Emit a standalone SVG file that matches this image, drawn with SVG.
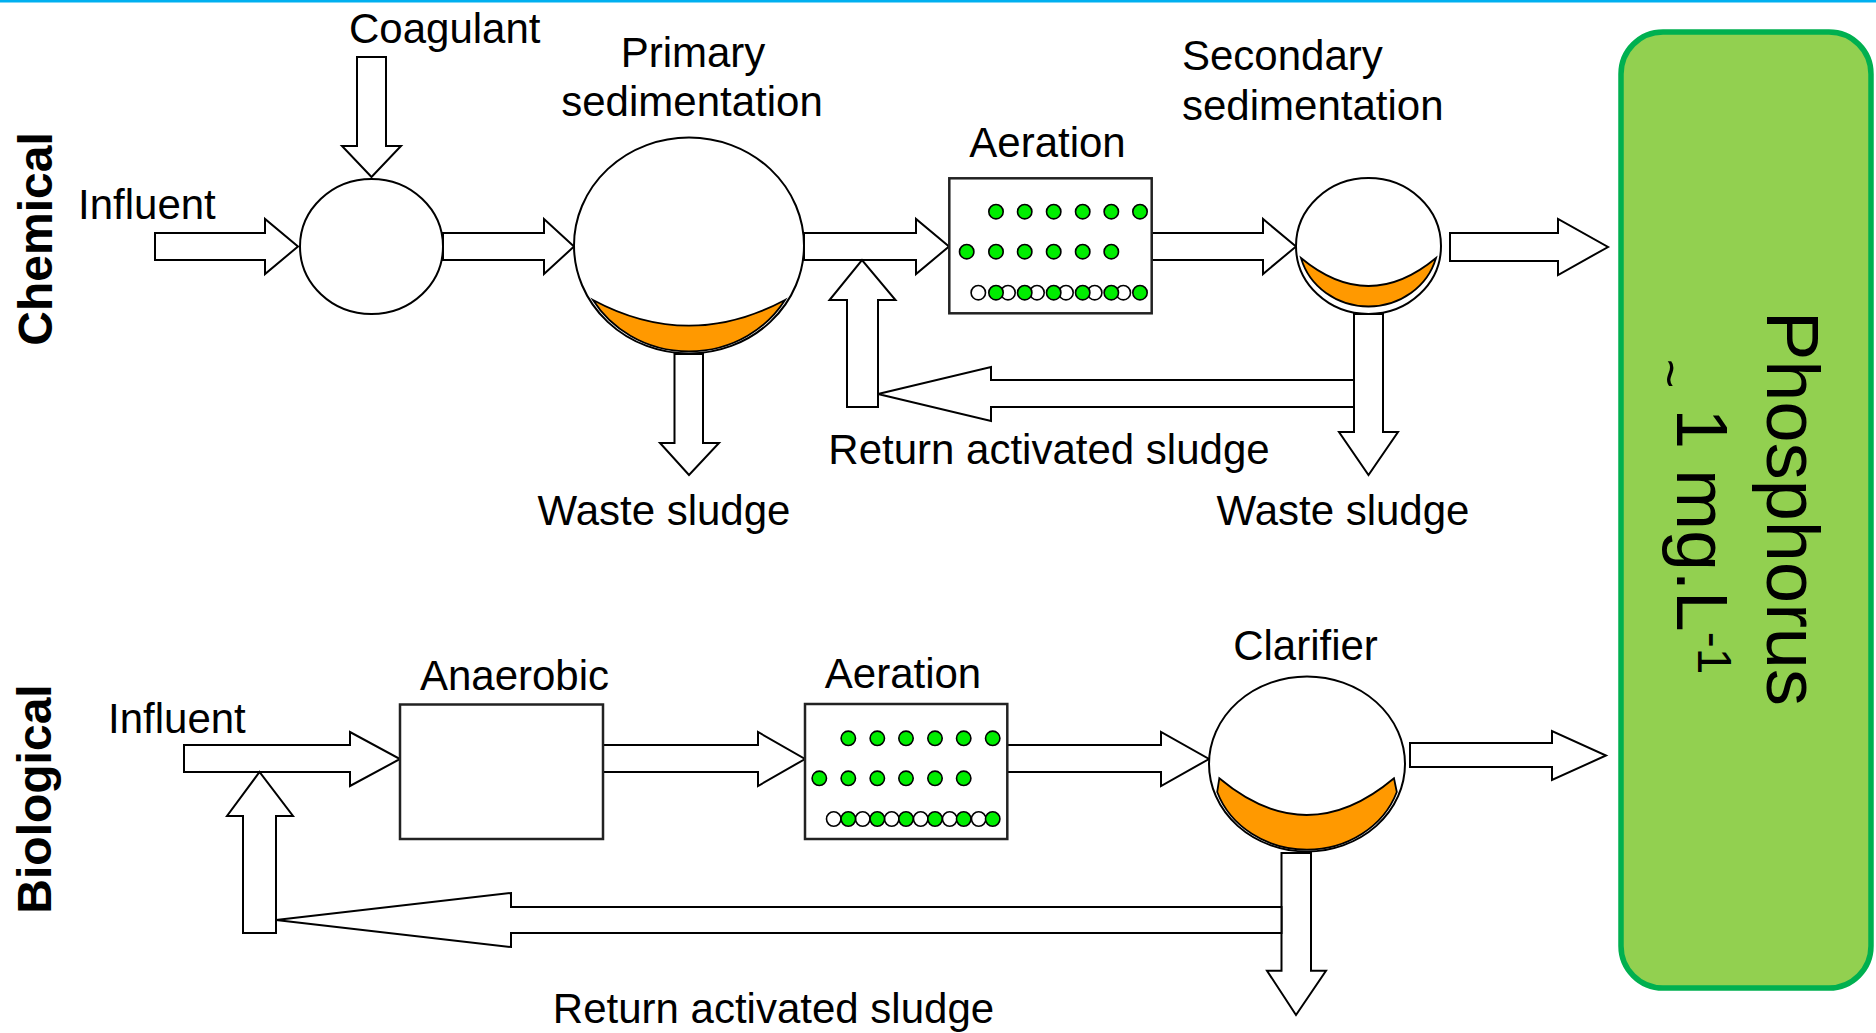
<svg xmlns="http://www.w3.org/2000/svg" width="1876" height="1033" viewBox="0 0 1876 1033">
<style>
  .lbl{font-family:"Liberation Sans",Arial,sans-serif;font-size:42px;fill:#000}
  .side{font-family:"Liberation Sans",Arial,sans-serif;font-size:48px;font-weight:bold;fill:#000}
  .big{font-family:"Liberation Sans",Arial,sans-serif;fill:#000}
  .arr{fill:#fff;stroke:#000;stroke-width:2;stroke-linejoin:miter}
  .tank{fill:#fff;stroke:#000;stroke-width:2}
  .box{fill:#fff;stroke:#222;stroke-width:2.5}
  .sludge{fill:#ff9900;stroke:#000;stroke-width:1.8}
  .g{fill:#00ee00;stroke:#000;stroke-width:1.6}
  .w{fill:#fff;stroke:#000;stroke-width:1.6}
</style>
<rect x="0" y="0" width="1876" height="2.5" fill="#00b0f0"/>

<g id="connectors">
  <polygon class="arr" points="155,233 265,233 265,219 298,246.5 265,274 265,260 155,260"/>
  <polygon class="arr" points="357,57 386,57 386,146 401,146 371.5,177 342,146 357,146"/>
  <polygon class="arr" points="443,233 544,233 544,219 574,246.5 544,274 544,260 443,260"/>
  <polygon class="arr" points="804,233 916,233 916,219 949,246.5 916,274 916,260 804,260"/>
  <polygon class="arr" points="674.5,354 703,354 703,443 719,443 689,475 660,443 674.5,443"/>
  <polygon class="arr" points="847,407 847,300 829.5,300 862,260 895.5,300 878,300 878,407"/>
  <polygon class="arr" points="1152,233 1263,233 1263,219 1296,246.5 1263,274 1263,260 1152,260"/>
  <polygon class="arr" points="1354,314 1383,314 1383,432 1398,432 1368.5,475 1339,432 1354,432"/>
  <polygon class="arr" points="1354,380 991,380 991,367 878,394 991,421 991,407 1354,407"/>
  <polygon class="arr" points="1450,233 1558,233 1558,219 1608,247 1558,275 1558,261 1450,261"/>

  <polygon class="arr" points="184,745 350,745 350,732 400,759 350,786 350,772 184,772"/>
  <polygon class="arr" points="243,933 243,816 227,816 259.5,772 293,816 276,816 276,933"/>
  <polygon class="arr" points="603,745 758,745 758,732 805,759 758,786 758,772 603,772"/>
  <polygon class="arr" points="1007,745 1161,745 1161,732 1209,759 1161,786 1161,772 1007,772"/>
  <polygon class="arr" points="1281.5,853 1311,853 1311,970.7 1326,970.7 1296,1015 1267,970.7 1281.5,970.7"/>
  <polygon class="arr" points="1281.5,907 511,907 511,893 276,920 511,947 511,933 1281.5,933"/>
  <polygon class="arr" points="1410,743 1552,743 1552,731 1606,755.5 1552,780 1552,767 1410,767"/>
</g>

<g id="label-chemical"><text class="side" text-anchor="middle" transform="translate(52,239) rotate(-90)">Chemical</text></g>
<g id="label-biological"><text class="side" text-anchor="middle" transform="translate(51,799) rotate(-90)">Biological</text></g>

<g id="influent-chem"><text class="lbl" x="78" y="219">Influent</text></g>
<g id="coagulant"><text class="lbl" x="349" y="43">Coagulant</text></g>

<g id="mixing">
  <ellipse class="tank" cx="371.5" cy="246.5" rx="71.5" ry="67.5"/>
</g>

<g id="primary-sedimentation">
  <ellipse class="tank" cx="689" cy="245.5" rx="115" ry="108"/>
  <path class="sludge" d="M593,300 A112,106 0 0 0 785,300 Q689,351.4 593,300 Z"/>
  <text class="lbl" text-anchor="middle" x="693" y="67">Primary</text>
  <text class="lbl" text-anchor="middle" x="692" y="116">sedimentation</text>
</g>

<g id="waste-sludge-1"><text class="lbl" text-anchor="middle" x="664" y="525">Waste sludge</text></g>

<g id="aeration-chem">
  <rect class="box" x="949.3" y="178.3" width="202.4" height="135"/>
  <text class="lbl" text-anchor="middle" x="1047.5" y="157">Aeration</text>
  <circle class="g" cx="996" cy="211.7" r="7.2"/><circle class="g" cx="1024.7" cy="211.7" r="7.2"/><circle class="g" cx="1053.7" cy="211.7" r="7.2"/><circle class="g" cx="1082.7" cy="211.7" r="7.2"/><circle class="g" cx="1111.3" cy="211.7" r="7.2"/><circle class="g" cx="1140" cy="211.7" r="7.2"/>
  <circle class="g" cx="966.7" cy="251.7" r="7.2"/><circle class="g" cx="996" cy="251.7" r="7.2"/><circle class="g" cx="1024.7" cy="251.7" r="7.2"/><circle class="g" cx="1053.7" cy="251.7" r="7.2"/><circle class="g" cx="1082.7" cy="251.7" r="7.2"/><circle class="g" cx="1111.3" cy="251.7" r="7.2"/>
  <circle class="w" cx="978.3" cy="292.7" r="7.2"/><circle class="w" cx="1008" cy="292.7" r="7.2"/><circle class="w" cx="1037" cy="292.7" r="7.2"/><circle class="w" cx="1066" cy="292.7" r="7.2"/><circle class="w" cx="1094.7" cy="292.7" r="7.2"/><circle class="w" cx="1123.3" cy="292.7" r="7.2"/>
  <circle class="g" cx="996" cy="292.7" r="7.2"/><circle class="g" cx="1024.7" cy="292.7" r="7.2"/><circle class="g" cx="1053.7" cy="292.7" r="7.2"/><circle class="g" cx="1082.7" cy="292.7" r="7.2"/><circle class="g" cx="1111.3" cy="292.7" r="7.2"/><circle class="g" cx="1140" cy="292.7" r="7.2"/>
</g>

<g id="secondary-sedimentation">
  <ellipse class="tank" cx="1368.5" cy="246" rx="72.5" ry="68"/>
  <path class="sludge" d="M1301,258 A70,66 0 0 0 1436,258 Q1368.5,314 1301,258 Z"/>
  <text class="lbl" x="1182" y="70">Secondary</text>
  <text class="lbl" x="1182" y="120">sedimentation</text>
</g>

<g id="return-chem"><text class="lbl" text-anchor="middle" x="1049" y="464">Return activated sludge</text></g>
<g id="waste-sludge-2"><text class="lbl" text-anchor="middle" x="1343" y="525">Waste sludge</text></g>

<g id="influent-bio"><text class="lbl" x="108" y="733">Influent</text></g>

<g id="anaerobic">
  <rect class="box" x="400" y="704.5" width="203" height="134.5"/>
  <text class="lbl" text-anchor="middle" x="514.5" y="690">Anaerobic</text>
</g>

<g id="aeration-bio">
  <rect class="box" x="805" y="704" width="202.3" height="135"/>
  <text class="lbl" text-anchor="middle" x="903" y="688">Aeration</text>
  <circle class="g" cx="848.3" cy="738.3" r="7.2"/><circle class="g" cx="877.3" cy="738.3" r="7.2"/><circle class="g" cx="906" cy="738.3" r="7.2"/><circle class="g" cx="935" cy="738.3" r="7.2"/><circle class="g" cx="963.7" cy="738.3" r="7.2"/><circle class="g" cx="992.7" cy="738.3" r="7.2"/>
  <circle class="g" cx="819.3" cy="778.3" r="7.2"/><circle class="g" cx="848.3" cy="778.3" r="7.2"/><circle class="g" cx="877.3" cy="778.3" r="7.2"/><circle class="g" cx="906" cy="778.3" r="7.2"/><circle class="g" cx="935" cy="778.3" r="7.2"/><circle class="g" cx="963.7" cy="778.3" r="7.2"/>
  <circle class="w" cx="833.7" cy="819" r="7.2"/><circle class="w" cx="862.7" cy="819" r="7.2"/><circle class="w" cx="891.7" cy="819" r="7.2"/><circle class="w" cx="920.7" cy="819" r="7.2"/><circle class="w" cx="949.7" cy="819" r="7.2"/><circle class="w" cx="978.7" cy="819" r="7.2"/>
  <circle class="g" cx="848.3" cy="819" r="7.2"/><circle class="g" cx="877.3" cy="819" r="7.2"/><circle class="g" cx="906" cy="819" r="7.2"/><circle class="g" cx="935" cy="819" r="7.2"/><circle class="g" cx="963.7" cy="819" r="7.2"/><circle class="g" cx="992.7" cy="819" r="7.2"/>
</g>

<g id="clarifier">
  <ellipse class="tank" cx="1307" cy="764" rx="98" ry="87.5"/>
  <path class="sludge" d="M1219.3,778.3 L1217.2,792 A95,85.5 0 0 0 1396.8,792 L1394,778.3 Q1306.7,851.7 1219.3,778.3 Z"/>
  <text class="lbl" text-anchor="middle" x="1305.5" y="660">Clarifier</text>
</g>

<g id="return-bio"><text class="lbl" text-anchor="middle" x="773.5" y="1023">Return activated sludge</text></g>

<g id="phosphorus">
  <rect x="1621" y="32" width="250" height="956" rx="42" ry="42" fill="#92d050" stroke="#00b050" stroke-width="5.5"/>
  <text class="big" font-size="74" transform="translate(1767,311) rotate(90)">Phosphorus</text>
  <text class="big" font-size="73" transform="translate(1677,359) rotate(90)"><tspan font-size="50" dy="24">~</tspan><tspan dy="-24"> 1 mg.L</tspan><tspan font-size="48" dy="-21">-1</tspan></text>
</g>
</svg>
